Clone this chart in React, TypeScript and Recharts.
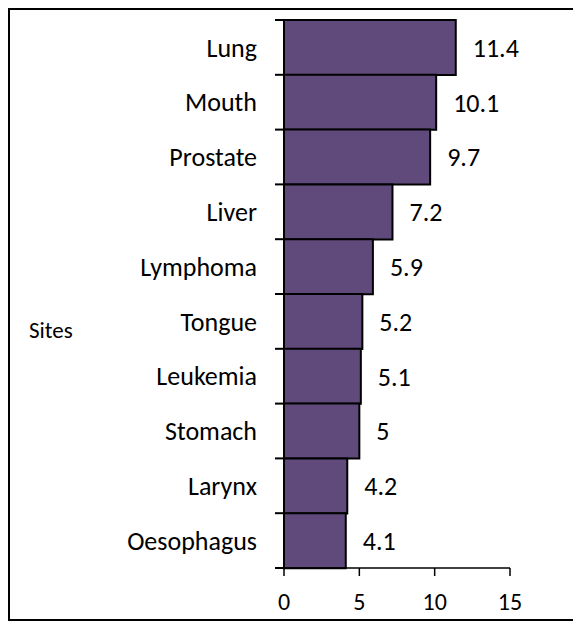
import { BarChart, Bar, XAxis, YAxis, LabelList, Label } from "recharts";

const sites = [
  "Lung",
  "Mouth",
  "Prostate",
  "Liver",
  "Lymphoma",
  "Tongue",
  "Leukemia",
  "Stomach",
  "Larynx",
  "Oesophagus",
];
const values = [11.4, 10.1, 9.7, 7.2, 5.9, 5.2, 5.1, 5, 4.2, 4.1];
const xTicks = [0, 5, 10, 15];

const data = sites.map((site, i) => ({ site, value: values[i] }));

const font = "Calibri, Carlito, 'Noto Sans', sans-serif";
const catStyle = { fill: "#000", fontSize: 26, fontFamily: font };
const numStyle = { fill: "#000", fontSize: 24, fontFamily: font };

const GAP = 27;

// category label plus tick marks on the band edges
const SiteTick = (props: any) => {
  const { payload, index, visibleTicksCount } = props;
  const x = Number(props.x);
  const y = Number(props.y);
  const half = Number(payload?.offset) || 27.4;
  const ax = x + GAP;
  const last = index === visibleTicksCount - 1;
  return (
    <g>
      <rect x={ax - 9} y={y - half - 1} width={9} height={2} fill="#000" />
      {last && <rect x={ax - 9} y={y + half - 1} width={9} height={2} fill="#000" />}
      <text x={x} y={y} dy="0.355em" textAnchor="end" {...catStyle}>
        {payload.value}
      </text>
    </g>
  );
};

export default function App() {
  return (
    <div
      style={{
        width: 568,
        height: 609,
        border: "2px solid #000",
        background: "#fff",
      }}
    >
      <BarChart
        width={568}
        height={609}
        data={data}
        layout="vertical"
        barCategoryGap={0}
        margin={{ top: 10, right: 68, left: 0, bottom: 0 }}
      >
        <XAxis
          type="number"
          domain={[0, 15]}
          ticks={xTicks}
          height={51}
          tickSize={8}
          tickMargin={17}
          axisLine={{ stroke: "#000", strokeWidth: 1.5 }}
          tickLine={{ stroke: "#000", strokeWidth: 1.5 }}
          tick={numStyle}
        />
        <YAxis
          type="category"
          dataKey="site"
          width={274}
          tickLine={false}
          tickSize={0}
          tickMargin={GAP}
          axisLine={{ stroke: "#000", strokeWidth: 1.5 }}
          tick={SiteTick}
        >
          <Label
            value="Sites"
            position="insideLeft"
            offset={19}
            dy={36}
            style={{ fill: "#000", fontSize: 23, fontFamily: font }}
          />
        </YAxis>
        <Bar
          dataKey="value"
          fill="#604A7B"
          stroke="#000"
          strokeWidth={2}
          isAnimationActive={false}
        >
          <LabelList
            dataKey="value"
            position="right"
            offset={17}
            style={catStyle}
          />
        </Bar>
      </BarChart>
    </div>
  );
}
